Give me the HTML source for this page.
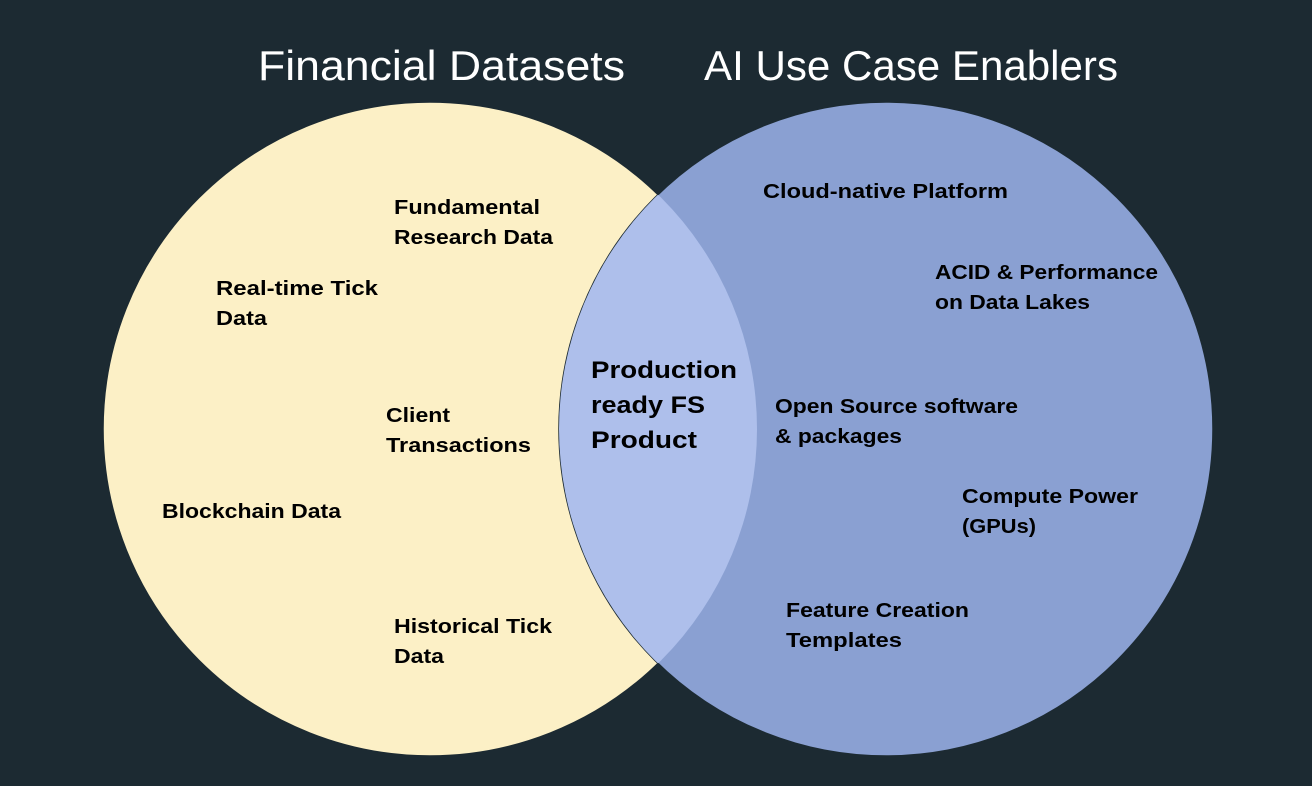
<!DOCTYPE html>
<html><head><meta charset="utf-8"><style>
html,body{margin:0;padding:0;background:#1c2a32;}
svg{display:block}
.t{font-family:"Liberation Sans",sans-serif;font-weight:bold;font-size:20px;fill:#000}
.h{font-family:"Liberation Sans",sans-serif;font-size:42px;fill:#fff}
</style></head><body>
<svg width="1312" height="786" viewBox="0 0 1312 786">
<rect width="1312" height="786" fill="#1c2a32"/>
<defs><clipPath id="lc"><circle cx="430" cy="429" r="327"/></clipPath></defs>
<circle cx="430" cy="429" r="327" fill="#fcf0c6" stroke="#1c2a32" stroke-width="1.5"/>
<circle cx="886" cy="429" r="327" fill="#8aa0d2" stroke="#1c2a32" stroke-width="1.5"/>
<circle cx="886" cy="429" r="327" fill="#aebfeb" clip-path="url(#lc)"/>
<text class="h" x="258" y="80" textLength="367" lengthAdjust="spacingAndGlyphs">Financial Datasets</text>
<text class="h" x="704" y="80" textLength="414" lengthAdjust="spacingAndGlyphs">AI Use Case Enablers</text>
<g lengthAdjust="spacingAndGlyphs">
<text class="t" x="394" y="214" textLength="146" lengthAdjust="spacingAndGlyphs">Fundamental</text>
<text class="t" x="394" y="244" textLength="159" lengthAdjust="spacingAndGlyphs">Research Data</text>
<text class="t" x="216" y="295" textLength="162" lengthAdjust="spacingAndGlyphs">Real-time Tick</text>
<text class="t" x="216" y="325" textLength="51" lengthAdjust="spacingAndGlyphs">Data</text>
<text class="t" x="386" y="422" textLength="64" lengthAdjust="spacingAndGlyphs">Client</text>
<text class="t" x="386" y="452" textLength="145" lengthAdjust="spacingAndGlyphs">Transactions</text>
<text class="t" x="162" y="518" textLength="179" lengthAdjust="spacingAndGlyphs">Blockchain Data</text>
<text class="t" x="394" y="633" textLength="158" lengthAdjust="spacingAndGlyphs">Historical Tick</text>
<text class="t" x="394" y="663" textLength="50" lengthAdjust="spacingAndGlyphs">Data</text>
<text class="t" x="591" y="378" style="font-size:24px" textLength="146" lengthAdjust="spacingAndGlyphs">Production</text>
<text class="t" x="591" y="413" style="font-size:24px" textLength="114" lengthAdjust="spacingAndGlyphs">ready FS</text>
<text class="t" x="591" y="448" style="font-size:24px" textLength="106" lengthAdjust="spacingAndGlyphs">Product</text>
<text class="t" x="763" y="198" textLength="245" lengthAdjust="spacingAndGlyphs">Cloud-native Platform</text>
<text class="t" x="935" y="279" textLength="223" lengthAdjust="spacingAndGlyphs">ACID &amp; Performance</text>
<text class="t" x="935" y="309" textLength="155" lengthAdjust="spacingAndGlyphs">on Data Lakes</text>
<text class="t" x="775" y="413" textLength="243" lengthAdjust="spacingAndGlyphs">Open Source software</text>
<text class="t" x="775" y="443" textLength="127" lengthAdjust="spacingAndGlyphs">&amp; packages</text>
<text class="t" x="962" y="503" textLength="176" lengthAdjust="spacingAndGlyphs">Compute Power</text>
<text class="t" x="962" y="533" textLength="74" lengthAdjust="spacingAndGlyphs">(GPUs)</text>
<text class="t" x="786" y="617" textLength="183" lengthAdjust="spacingAndGlyphs">Feature Creation</text>
<text class="t" x="786" y="647" textLength="116" lengthAdjust="spacingAndGlyphs">Templates</text>
</g>
</svg>
</body></html>
